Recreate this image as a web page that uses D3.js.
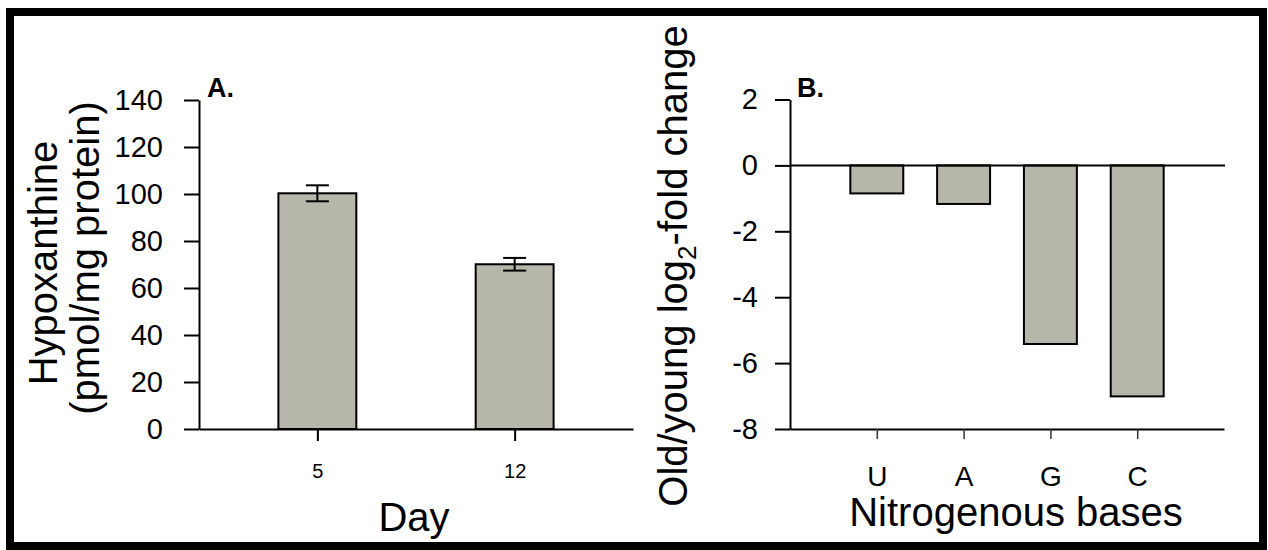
<!DOCTYPE html>
<html>
<head>
<meta charset="utf-8">
<script src="https://cdn.jsdelivr.net/npm/d3@7"></script>
<style>
  html, body { margin: 0; padding: 0; background: #fff; }
  svg { display: block; font-family: "Liberation Sans", Arial, Helvetica, sans-serif; }
</style>
</head>
<body>
<svg id="fig" width="1268" height="550"></svg>
<script>
// Panel A: hypoxanthine content by culture day
const days = ["5", "12"];
const hypoxanthine = [100.3, 70.1];
const hypoxanthineErr = [3.4, 2.7];
const ticksA = [0, 20, 40, 60, 80, 100, 120, 140];

// Panel B: old/young log2 fold change of nitrogenous bases
const bases = ["U", "A", "G", "C"];
const log2Fold = [-0.85, -1.17, -5.42, -7.01];
const ticksB = [-8, -6, -4, -2, 0, 2];

const barFill = "#b6b6aa";
const svg = d3.select("#fig");

// outer frame
svg.append("rect")
  .attr("x", 10).attr("y", 12).attr("width", 1253).attr("height", 534)
  .attr("fill", "none").attr("stroke", "#000").attr("stroke-width", 8);

function styleAxis(g, fontSize) {
  g.select(".domain").attr("stroke", "#000").attr("stroke-width", 2);
  g.selectAll(".tick line").attr("stroke", "#000").attr("stroke-width", 2);
  g.selectAll(".tick text").attr("fill", "#000")
    .style("font-size", fontSize + "px")
    .style("font-family", '"Liberation Sans", Arial, sans-serif');
}

// ---------- Panel A ----------
const yA = d3.scaleLinear().domain([0, 140]).range([429, 100]);
const xA = d3.scalePoint().domain(days).range([199, 633]).padding(0.6);
const barWA = xA.step() * 0.395;

const gA = svg.append("g");

gA.append("g")
  .attr("transform", "translate(0,429)")
  .call(d3.axisBottom(xA).tickSize(12).tickSizeOuter(0).tickPadding(23))
  .call(g => styleAxis(g, 20));

gA.selectAll("rect.bar")
  .data(days)
  .join("rect")
  .attr("class", "bar")
  .attr("x", d => xA(d) - barWA / 2)
  .attr("width", barWA)
  .attr("y", (d, i) => yA(hypoxanthine[i]))
  .attr("height", (d, i) => yA(0) - yA(hypoxanthine[i]))
  .attr("fill", barFill).attr("stroke", "#000").attr("stroke-width", 2);

// error bars
const capW = 23;
const eb = gA.selectAll("g.err").data(days).join("g").attr("class", "err");
eb.append("line")
  .attr("x1", d => xA(d)).attr("x2", d => xA(d))
  .attr("y1", (d, i) => yA(hypoxanthine[i] - hypoxanthineErr[i]))
  .attr("y2", (d, i) => yA(hypoxanthine[i] + hypoxanthineErr[i]))
  .attr("stroke", "#000").attr("stroke-width", 2);
[-1, 1].forEach(s => {
  eb.append("line")
    .attr("x1", d => xA(d) - capW / 2).attr("x2", d => xA(d) + capW / 2)
    .attr("y1", (d, i) => yA(hypoxanthine[i] + s * hypoxanthineErr[i]))
    .attr("y2", (d, i) => yA(hypoxanthine[i] + s * hypoxanthineErr[i]))
    .attr("stroke", "#000").attr("stroke-width", 2);
});

gA.append("g")
  .attr("transform", "translate(199,0)")
  .call(d3.axisLeft(yA).tickValues(ticksA).tickSize(15).tickSizeOuter(0).tickPadding(21))
  .call(g => styleAxis(g, 29));

gA.append("text").text("A.")
  .attr("x", 207).attr("y", 97)
  .style("font-size", "27px").style("font-weight", "bold");

gA.append("text").text("Hypoxanthine")
  .attr("transform", "translate(57,263) rotate(-90)")
  .attr("text-anchor", "middle").style("font-size", "40px");
gA.append("text").text("(pmol/mg protein)")
  .attr("transform", "translate(99,258) rotate(-90)")
  .attr("text-anchor", "middle").style("font-size", "40px");
gA.append("text").text("Day")
  .attr("x", 414).attr("y", 531)
  .attr("text-anchor", "middle").style("font-size", "40px");

// ---------- Panel B ----------
const yB = d3.scaleLinear().domain([-8, 2]).range([429, 99.5]);
const xB = d3.scalePoint().domain(bases).range([790, 1224]).padding(1);
const barWB = xB.step() * 0.61;

const gB = svg.append("g");

gB.append("g")
  .attr("transform", "translate(0,429)")
  .call(d3.axisBottom(xB).tickSize(10).tickSizeOuter(0).tickPadding(27))
  .call(g => styleAxis(g, 28))
  .call(g => g.selectAll(".tick line").attr("stroke", "#333").attr("stroke-width", 1.5));

gB.selectAll("rect.bar")
  .data(bases)
  .join("rect")
  .attr("class", "bar")
  .attr("x", d => xB(d) - barWB / 2)
  .attr("width", barWB)
  .attr("y", yB(0))
  .attr("height", (d, i) => yB(log2Fold[i]) - yB(0))
  .attr("fill", barFill).attr("stroke", "#000").attr("stroke-width", 2);

// zero reference line
gB.append("line")
  .attr("x1", 790).attr("x2", 1225)
  .attr("y1", yB(0)).attr("y2", yB(0))
  .attr("stroke", "#000").attr("stroke-width", 2);

gB.append("g")
  .attr("transform", "translate(790,0)")
  .call(d3.axisLeft(yB).tickValues(ticksB).tickSize(15).tickSizeOuter(0).tickPadding(17)
    .tickFormat(d => String(d)))
  .call(g => styleAxis(g, 29));

gB.append("text").text("B.")
  .attr("x", 797).attr("y", 97)
  .style("font-size", "27px").style("font-weight", "bold");

const tB = gB.append("text")
  .attr("transform", "translate(687,266) rotate(-90)")
  .attr("text-anchor", "middle").style("font-size", "40px");
tB.append("tspan").text("Old/young log");
tB.append("tspan").text("2").attr("dy", 9).style("font-size", "26px");
tB.append("tspan").text("-fold change").attr("dy", -9);

gB.append("text").text("Nitrogenous bases")
  .attr("x", 1016).attr("y", 526)
  .attr("text-anchor", "middle").style("font-size", "40px");
</script>
</body>
</html>
